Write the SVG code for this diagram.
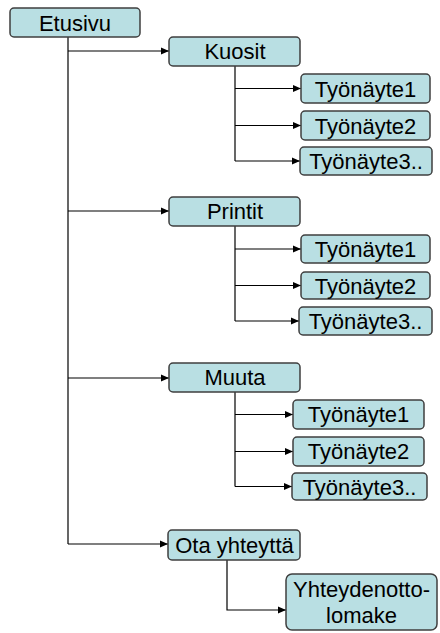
<svg xmlns="http://www.w3.org/2000/svg" width="440" height="633" viewBox="0 0 440 633">
  <style>
    .box { fill: #b9dfe3; stroke: #3f3f3f; stroke-width: 1.5; }
    .lbl { font-family: "Liberation Sans", Arial, sans-serif; font-size: 22px; fill: #000; text-anchor: middle; }
    .wire { fill: none; stroke: #000; stroke-width: 1.2; }
  </style>
  <defs>
    <marker id="arrow" viewBox="0 0 8 8" refX="8" refY="4" markerWidth="8" markerHeight="8" markerUnits="userSpaceOnUse" orient="auto">
      <path d="M0,0.5 L8,4 L0,7.5 Z" fill="#000"/>
    </marker>
  </defs>

  <!-- connectors -->
  <g id="connectors" class="wire">
    <!-- root trunk -->
    <path d="M68,37 V544"/>
    <path d="M68,51 H169" marker-end="url(#arrow)"/>
    <path d="M68,211 H169" marker-end="url(#arrow)"/>
    <path d="M68,378 H169" marker-end="url(#arrow)"/>
    <path d="M68,544 H168" marker-end="url(#arrow)"/>
    <!-- Kuosit branch -->
    <path d="M235,66 V161"/>
    <path d="M235,88.5 H301" marker-end="url(#arrow)"/>
    <path d="M235,125.5 H301" marker-end="url(#arrow)"/>
    <path d="M235,161 H300" marker-end="url(#arrow)"/>
    <!-- Printit branch -->
    <path d="M235,226 V321"/>
    <path d="M235,249 H301" marker-end="url(#arrow)"/>
    <path d="M235,285.5 H301" marker-end="url(#arrow)"/>
    <path d="M235,321 H299" marker-end="url(#arrow)"/>
    <!-- Muuta branch -->
    <path d="M235,392 V486.5"/>
    <path d="M235,414.5 H293" marker-end="url(#arrow)"/>
    <path d="M235,451.5 H293" marker-end="url(#arrow)"/>
    <path d="M235,486.5 H292" marker-end="url(#arrow)"/>
    <!-- Ota yhteyttä branch -->
    <path d="M227,560 V610 H286" marker-end="url(#arrow)"/>
  </g>

  <g id="etusivu">
    <rect class="box" x="10" y="8" width="130" height="29" rx="4"/>
    <text class="lbl" x="75" y="30.5">Etusivu</text>
  </g>

  <g id="kuosit">
    <rect class="box" x="169" y="37" width="131" height="29" rx="4"/>
    <text class="lbl" x="235" y="59">Kuosit</text>
  </g>
  <g id="kuosit-1">
    <rect class="box" x="301" y="74" width="129" height="29" rx="4"/>
    <text class="lbl" x="365.5" y="96.5">Työnäyte1</text>
  </g>
  <g id="kuosit-2">
    <rect class="box" x="301" y="111" width="129" height="29" rx="4"/>
    <text class="lbl" x="365.5" y="133.5">Työnäyte2</text>
  </g>
  <g id="kuosit-3">
    <rect class="box" x="300" y="147" width="132" height="28" rx="4"/>
    <text class="lbl" x="366" y="169">Työnäyte3..</text>
  </g>

  <g id="printit">
    <rect class="box" x="169" y="197" width="131" height="29" rx="4"/>
    <text class="lbl" x="235" y="219">Printit</text>
  </g>
  <g id="printit-1">
    <rect class="box" x="301" y="235" width="129" height="28" rx="4"/>
    <text class="lbl" x="365.5" y="257">Työnäyte1</text>
  </g>
  <g id="printit-2">
    <rect class="box" x="301" y="272" width="129" height="27" rx="4"/>
    <text class="lbl" x="365.5" y="293.5">Työnäyte2</text>
  </g>
  <g id="printit-3">
    <rect class="box" x="299" y="307" width="133" height="28" rx="4"/>
    <text class="lbl" x="365.5" y="329">Työnäyte3..</text>
  </g>

  <g id="muuta">
    <rect class="box" x="169" y="363" width="131" height="29" rx="4"/>
    <text class="lbl" x="235" y="385">Muuta</text>
  </g>
  <g id="muuta-1">
    <rect class="box" x="293" y="400" width="131" height="29" rx="4"/>
    <text class="lbl" x="358.5" y="422">Työnäyte1</text>
  </g>
  <g id="muuta-2">
    <rect class="box" x="293" y="437" width="131" height="29" rx="4"/>
    <text class="lbl" x="358.5" y="459">Työnäyte2</text>
  </g>
  <g id="muuta-3">
    <rect class="box" x="292" y="473" width="135" height="27" rx="4"/>
    <text class="lbl" x="359.5" y="494.5">Työnäyte3..</text>
  </g>

  <g id="ota-yhteytta">
    <rect class="box" x="168" y="530" width="132" height="30" rx="4"/>
    <text class="lbl" x="234.5" y="552.5">Ota yhteyttä</text>
  </g>
  <g id="yhteydenottolomake">
    <rect class="box" x="286" y="574" width="151" height="56" rx="6"/>
    <text class="lbl" x="361.5" y="597">Yhteydenotto-</text>
    <text class="lbl" x="361.5" y="623">lomake</text>
  </g>
</svg>
